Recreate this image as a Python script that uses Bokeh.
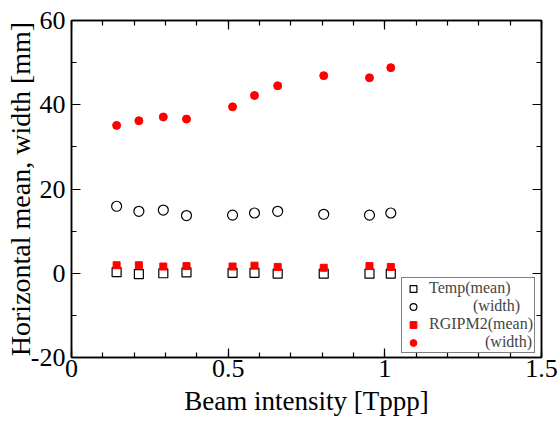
from bokeh.plotting import figure
from bokeh.models import (LinearAxis, Legend, LegendItem, Range1d,
                          SingleIntervalTicker, CustomJSTickFormatter)
from bokeh.embed import file_html
from bokeh.resources import INLINE

# ---- data ----
intensity = [0.144, 0.215, 0.293, 0.367, 0.514, 0.584, 0.658, 0.805, 0.951, 1.019]
temp_mean = [0.25, -0.2, 0.0, 0.2, 0.1, 0.1, -0.1, -0.1, -0.1, -0.1]
temp_width = [15.9, 14.7, 15.0, 13.7, 13.8, 14.3, 14.7, 14.0, 13.8, 14.3]
rgipm2_mean = [1.9, 1.9, 1.6, 1.7, 1.6, 1.8, 1.5, 1.3, 1.7, 1.5]
rgipm2_width = [35.1, 36.2, 37.1, 36.6, 39.5, 42.2, 44.5, 46.9, 46.4, 48.8]

x_label = "Beam intensity [Tppp]"
y_label = "Horizontal mean, width [mm]"
legend_labels = ["Temp(mean)", "\u00a0" * 11 + "(width)",
                 "RGIPM2(mean)", "\u00a0" * 14 + "(width)"]

FONT = "Liberation Serif"

p = figure(width=560, height=426, output_backend="svg", toolbar_location=None,
           x_range=Range1d(0, 1.5), y_range=Range1d(-20, 60),
           min_border_left=71, min_border_right=19, min_border_top=20,
           min_border_bottom=69)
p.grid.visible = False
p.outline_line_color = "black"
p.outline_line_width = 1.5

plain = CustomJSTickFormatter(code="return tick.toString();")
blank = CustomJSTickFormatter(code="return '';")

def style_axis(ax):
    ax.axis_line_width = 1.5
    ax.axis_line_color = "black"
    ax.major_tick_in = 9
    ax.major_tick_out = 0
    ax.minor_tick_in = 5
    ax.minor_tick_out = 0
    ax.major_tick_line_width = 1.2
    ax.minor_tick_line_width = 1.2
    ax.major_label_text_font = FONT
    ax.major_label_text_font_size = "26px"
    ax.major_label_text_font_style = "normal"
    ax.major_label_text_color = "black"
    ax.axis_label_text_font = FONT
    ax.axis_label_text_font_style = "normal"
    ax.axis_label_text_color = "black"

xt = SingleIntervalTicker(interval=0.5, num_minor_ticks=5)
yt = SingleIntervalTicker(interval=20, num_minor_ticks=2)

p.xaxis.ticker = xt
p.yaxis.ticker = yt
for ax in p.xaxis:
    style_axis(ax)
    ax.formatter = plain
    ax.axis_label = x_label
    ax.axis_label_text_font_size = "27px"
    ax.major_label_standoff = 2
    ax.axis_label_standoff = 6
for ax in p.yaxis:
    style_axis(ax)
    ax.formatter = plain
    ax.axis_label = y_label
    ax.axis_label_text_font_size = "28px"
    ax.major_label_standoff = 6
    ax.axis_label_standoff = -8

top = LinearAxis(ticker=xt, formatter=blank)
style_axis(top)
top.major_label_standoff = 0
p.add_layout(top, "above")
right = LinearAxis(ticker=yt, formatter=blank)
style_axis(right)
right.major_label_standoff = 0
p.add_layout(right, "right")

r1 = p.scatter(intensity, temp_mean, marker="square", size=9, fill_color=None,
               line_color="black", line_width=1.2)
r2 = p.scatter(intensity, temp_width, marker="circle", size=10, fill_color=None,
               line_color="black", line_width=1.2)
r3 = p.scatter(intensity, rgipm2_mean, marker="square", size=7, fill_color="red",
               line_color="red")
r4 = p.scatter(intensity, rgipm2_width, marker="circle", size=8, fill_color="red",
               line_color="red")

legend = Legend(items=[LegendItem(label=legend_labels[0], renderers=[r1]),
                       LegendItem(label=legend_labels[1], renderers=[r2]),
                       LegendItem(label=legend_labels[2], renderers=[r3]),
                       LegendItem(label=legend_labels[3], renderers=[r4])],
                location=(330, 4), orientation="vertical")
legend.label_text_font = FONT
legend.label_text_font_size = "16px"
legend.label_height = 16
legend.glyph_height = 17
legend.glyph_width = 20
legend.label_standoff = 6
legend.spacing = 0
legend.padding = 1
legend.margin = 0
legend.border_line_color = "black"
legend.border_line_width = 1.5
legend.background_fill_alpha = 1
p.add_layout(legend, "center")

open("out.html", "w").write(file_html(p, INLINE))
